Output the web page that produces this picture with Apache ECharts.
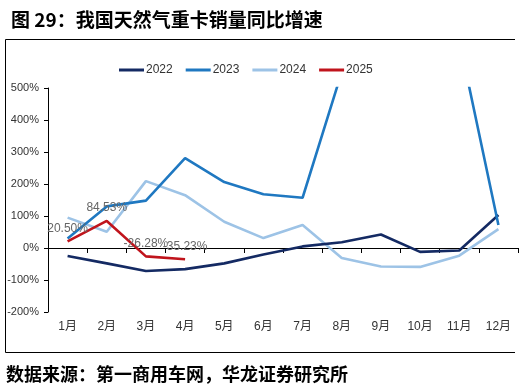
<!DOCTYPE html>
<html>
<head>
<meta charset="utf-8">
<style>
html,body{margin:0;padding:0;background:#fff;}
#chart{width:521px;height:392px;}
</style>
<script src="https://cdn.jsdelivr.net/npm/echarts@6/dist/echarts.min.js"></script>
</head>
<body>
<div id="chart"></div>
<script>
var months = ['1月','2月','3月','4月','5月','6月','7月','8月','9月','10月','11月','12月'];
var seriesNames = ['2022','2023','2024','2025'];
var v2022 = [-25, -48, -72, -66, -48, -20, 5, 18, 42, -12, -8, 103];
var v2023 = [30, 130, 148, 281, 206, 168, 157, 550, 800, 760, 650, 72];
var v2024 = [95, 51, 209, 165, 82, 31, 72, -31, -58, -59, -24, 59];
var v2025 = [20.50, 84.53, -26.28, -35.23];
var yTicks = {min: -200, max: 500, interval: 100};
var titleText = '图 29：我国天然气重卡销量同比增速';
var sourceText = '数据来源：第一商用车网，华龙证券研究所';

var colors = ['#142A63', '#1F78C1', '#9DC3E6', '#C0141C'];
var font = 'Arial, "Liberation Sans", "Noto Sans CJK SC", sans-serif';

var chart = echarts.init(document.getElementById('chart'), null, {renderer: 'canvas'});

function lineSeries(name, data, idx, extra) {
  var s = {
    name: name, type: 'line', data: data, xAxisIndex: 0,
    symbol: 'none', showSymbol: false, smooth: false, clip: true,
    lineStyle: {color: colors[idx], width: 2.6},
    itemStyle: {color: colors[idx]},
    z: 2 + idx
  };
  if (extra) for (var k in extra) s[k] = extra[k];
  return s;
}

var option = {
  animation: false,
  backgroundColor: '#fff',
  title: {
    text: titleText, left: 6, top: 5,
    textStyle: {fontSize: 19, fontWeight: 'bold', color: '#000', fontFamily: '"Noto Sans CJK SC", sans-serif'}
  },
  graphic: [
    {type: 'polyline', shape: {points: [[515, 39.5], [5.5, 39.5], [5.5, 352.5], [515, 352.5]]},
     style: {stroke: '#000', lineWidth: 1, fill: null}, silent: true},
    {type: 'text', left: 6, top: 365,
     style: {text: sourceText, fill: '#000',
             font: 'bold 18px "Noto Sans CJK SC", sans-serif'}}
  ],
  legend: {
    data: seriesNames.map(function (n) { return {name: n, icon: 'rect'}; }),
    top: 59, left: 114,
    itemWidth: 25, itemHeight: 3, itemGap: 13,
    textStyle: {fontSize: 12, color: '#333', fontFamily: font, padding: [0, 0, 0, -3]}
  },
  grid: {left: 48, right: 3, top: 88, bottom: 80, containLabel: false},
  xAxis: [
    {
      type: 'category', data: months, boundaryGap: true, position: 'bottom',
      axisLine: {show: true, onZero: true, lineStyle: {color: '#000', width: 1}},
      axisTick: {show: true, inside: false, length: 5, lineStyle: {color: '#000'}},
      axisLabel: {show: false}, splitLine: {show: false}
    },
    {
      type: 'category', data: months, boundaryGap: true, position: 'bottom',
      axisLine: {show: false, onZero: false}, axisTick: {show: false},
      axisLabel: {show: true, margin: 9, fontSize: 12, color: '#333', fontFamily: font},
      splitLine: {show: false}
    }
  ],
  yAxis: {
    type: 'value', min: yTicks.min, max: yTicks.max, interval: yTicks.interval,
    axisLine: {show: true, lineStyle: {color: '#000', width: 1}},
    axisTick: {show: true, inside: false, length: 4, lineStyle: {color: '#000'}},
    axisLabel: {formatter: '{value}%', fontSize: 11, color: '#333', margin: 9, fontFamily: font},
    splitLine: {show: false}
  },
  series: [
    lineSeries('2022', v2022, 0),
    lineSeries('2023', v2023, 1),
    lineSeries('2024', v2024, 2, {z: 1}),
    lineSeries('2025', v2025, 3, {
      symbol: 'circle', symbolSize: 0, showSymbol: true,
      label: {
        show: true, position: 'top', distance: 7,
        fontSize: 12, color: '#666', fontFamily: font,
        formatter: function (p) { return p.value.toFixed(2) + '%'; }
      }
    })
  ]
};
chart.setOption(option);
</script>
</body>
</html>
